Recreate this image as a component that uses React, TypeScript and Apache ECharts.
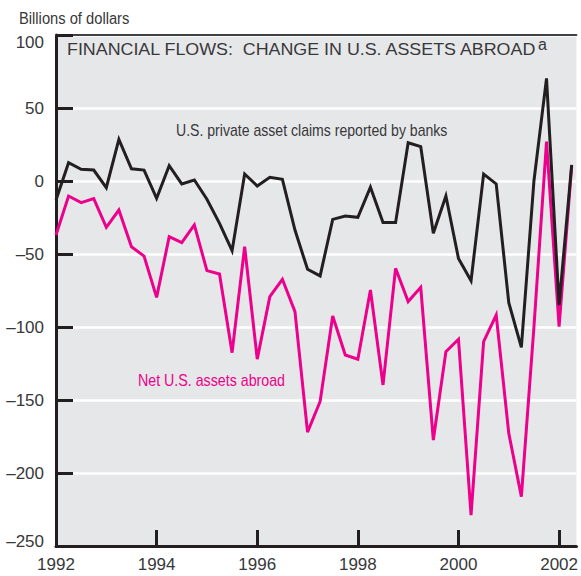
import React, { useEffect, useRef } from "react";
import * as echarts from "echarts";

// Quarterly observations, 1992 Q1 through 2002 Q2
const START_YEAR = 1992;
const QUARTER = 0.25;

const bankClaims: number[] = [
  -13, 12.5, 8, 7.5, -4.6, 28.5, 8.4, 7.5, -11.9, 10.5,
  -2, 0.7, -12.5, -29, -47.7, 4.8, -3.4, 2.5, 1.1, -33.6,
  -60.5, -65, -26.3, -24, -24.9, -4.3, -28.5, -28.5, 26.2, 23.5,
  -35.8, -10.3, -53, -68.3, 4.8, -2, -83.3, -113.9, 0, 70.3,
  -85, 11,
];

const netAssets: number[] = [
  -37, -10.3, -14.8, -12.1, -31.7, -19.9, -45, -51.4, -79.7, -38.1,
  -42.2, -30.1, -61.4, -63.7, -117.6, -45, -122, -79.2, -67.3, -89.5,
  -172, -151, -92.5, -119.2, -122.1, -74.7, -139.7, -59.8, -82.6, -72.8,
  -177.4, -116.9, -108.4, -228.8, -110, -91.8, -172.8, -216.2, -100, 26.9,
  -99.8, 10,
];

const yTicks = { min: -250, max: 100, interval: 50 };
const xTicks = { min: 1992, max: 2002.345, interval: 2 };

const TITLE = "FINANCIAL FLOWS:  CHANGE IN U.S. ASSETS ABROAD";
const TITLE_NOTE = "a";
const UNIT = "Billions of dollars";
const LABEL_BANKS = "U.S. private asset claims reported by banks";
const LABEL_NET = "Net U.S. assets abroad";

const NARROW = "'Liberation Sans Narrow', 'Arial Narrow', 'Liberation Sans', sans-serif";
const REGULAR = "'Liberation Sans', Arial, sans-serif";
const TEXT = "#38383a";
const BLACK = "#231f20";
const PINK = "#ec008c";

const toPairs = (vals: number[]) =>
  vals.map((v, i) => [START_YEAR + i * QUARTER, v]);

export default function App() {
  const ref = useRef<HTMLDivElement>(null);

  useEffect(() => {
    if (!ref.current) return;
    const chart = echarts.init(ref.current, undefined, { renderer: "svg" });
    chart.setOption({
      animation: false,
      backgroundColor: "#ffffff",
      grid: {
        left: 56,
        right: 0,
        top: 35,
        bottom: 30,
        show: true,
        backgroundColor: "#e6e7e8",
        borderWidth: 0,
      },
      xAxis: [
        {
          type: "value",
          min: xTicks.min,
          max: xTicks.max,
          interval: xTicks.interval,
          axisLine: { show: true, onZero: false, lineStyle: { color: BLACK, width: 3 } },
          axisTick: { show: true, inside: true, length: 16, lineStyle: { color: BLACK, width: 3 } },
          axisLabel: {
            showMaxLabel: false,
            margin: 10,
            color: TEXT,
            fontFamily: NARROW,
            fontSize: 17,
            formatter: (v: number) => (Number.isInteger(v) ? String(v) : ""),
          },
          splitLine: { show: false },
        },
        {
          type: "value",
          position: "top",
          min: xTicks.min,
          max: xTicks.max,
          interval: xTicks.interval,
          axisLine: { show: true, onZero: false, lineStyle: { color: "#404042", width: 2 } },
          axisTick: { show: false },
          axisLabel: { show: false },
          splitLine: { show: false },
        },
      ],
      yAxis: {
        type: "value",
        min: yTicks.min,
        max: yTicks.max,
        interval: yTicks.interval,
        axisLine: { show: true, onZero: false, lineStyle: { color: BLACK, width: 3 } },
        axisTick: { show: true, inside: true, length: 17, lineStyle: { color: BLACK, width: 3 } },
        axisLabel: {
          margin: 12,
          color: TEXT,
          fontFamily: NARROW,
          fontSize: 17,
          formatter: (v: number) => {
            const s = v < 0 ? "\u2013" + Math.abs(v) : String(v);
            if (v === yTicks.max) return "{top|" + s + "}";
            if (v === yTicks.min) return "{bot|" + s + "}";
            return s;
          },
          rich: {
            top: { padding: [15, 0, 0, 0], color: TEXT, fontFamily: NARROW, fontSize: 17 },
            bot: { padding: [0, 0, 10, 0], color: TEXT, fontFamily: NARROW, fontSize: 17 },
          },
        },
        splitLine: { show: true, lineStyle: { color: "#ffffff", width: 2.5 } },
      },
      series: [
        {
          name: LABEL_NET,
          type: "line",
          data: toPairs(netAssets),
          showSymbol: false,
          lineStyle: { color: PINK, width: 3, join: "miter", cap: "butt" },
          z: 2,
        },
        {
          name: LABEL_BANKS,
          type: "line",
          data: toPairs(bankClaims),
          showSymbol: false,
          lineStyle: { color: BLACK, width: 3, join: "miter", cap: "butt" },
          z: 3,
        },
      ],
      graphic: [
        {
          type: "text",
          x: 19,
          y: 18,
          scaleX: 0.92,
          style: { text: UNIT, fill: TEXT, font: `16px ${NARROW}`, textVerticalAlign: "middle" },
        },
        {
          type: "text",
          x: 67,
          y: 49,
          scaleX: 1.05,
          style: {
            text: TITLE,
            fill: TEXT,
            font: `17px ${REGULAR}`,
            textVerticalAlign: "middle",
          },
          z: 10,
        },
        {
          type: "text",
          x: 538,
          y: 44,
          style: {
            text: TITLE_NOTE,
            fill: TEXT,
            font: `16px ${REGULAR}`,
            textVerticalAlign: "middle",
          },
          z: 10,
        },
        {
          type: "text",
          x: 176,
          y: 130,
          scaleX: 0.88,
          style: {
            text: LABEL_BANKS,
            fill: TEXT,
            font: `16px ${NARROW}`,
            textVerticalAlign: "middle",
          },
          z: 10,
        },
        {
          type: "text",
          x: 138,
          y: 380,
          scaleX: 0.89,
          style: {
            text: LABEL_NET,
            fill: PINK,
            font: `16px ${NARROW}`,
            textVerticalAlign: "middle",
          },
          z: 10,
        },
      ],
    });
    return () => chart.dispose();
  }, []);

  return (
    <div
      ref={ref}
      style={{ position: "fixed", left: 0, top: 0, width: 581, height: 576 }}
    />
  );
}
